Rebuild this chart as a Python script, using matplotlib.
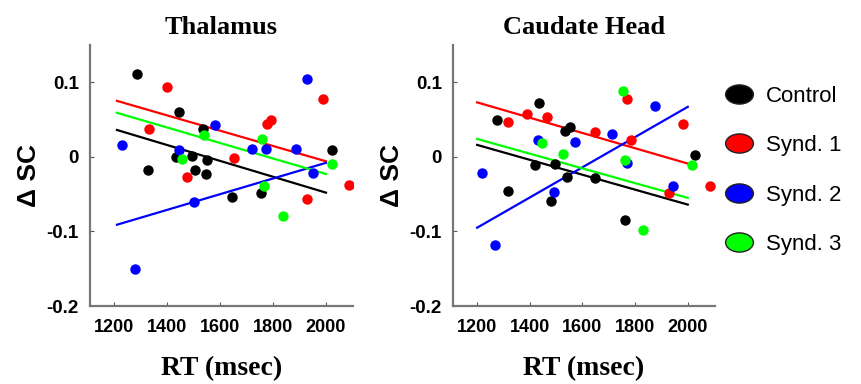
import numpy as np
import matplotlib
matplotlib.use("Agg")
import matplotlib.pyplot as plt
from matplotlib.lines import Line2D
from matplotlib.path import Path
from matplotlib.transforms import Affine2D

groups = ["Control", "Synd. 1", "Synd. 2", "Synd. 3"]
colors = ["#000000", "#ff0000", "#0000ff", "#00ff00"]

# Thalamus: RT (msec) and delta SC per group
thal_x = {
    "Control": [1287, 1327, 1445, 1432, 1493, 1505, 1546, 1549, 1537, 1643, 1753, 2023],
    "Synd. 1": [1398, 1330, 1474, 1653, 1777, 1792, 1928, 1987, 2085],
    "Synd. 2": [1229, 1278, 1445, 1500, 1582, 1720, 1772, 1886, 1930, 1949],
    "Synd. 3": [1455, 1540, 1759, 1767, 1836, 2024],
}
thal_y = {
    "Control": [0.111, -0.017, 0.060, 0.000, 0.001, -0.018, -0.023, -0.004, 0.037, -0.054, -0.048, 0.009],
    "Synd. 1": [0.093, 0.037, -0.027, -0.002, 0.044, 0.049, -0.056, 0.077, -0.038],
    "Synd. 2": [0.016, -0.150, 0.009, -0.060, 0.043, 0.010, 0.011, 0.011, 0.104, -0.022],
    "Synd. 3": [-0.003, 0.029, 0.024, -0.039, -0.079, -0.010],
}
# fitted line end values at RT 1210 and 2000
thal_fit_x = [1210, 2000]
thal_fit = {
    "Control": [0.036, -0.048],
    "Synd. 1": [0.075, -0.006],
    "Synd. 2": [-0.091, -0.008],
    "Synd. 3": [0.059, -0.023],
}

# Caudate head
caud_x = {
    "Control": [1276, 1316, 1436, 1420, 1482, 1497, 1535, 1554, 1541, 1647, 1761, 2028],
    "Synd. 1": [1318, 1389, 1465, 1646, 1771, 1786, 1927, 1981, 2083],
    "Synd. 2": [1219, 1268, 1433, 1491, 1573, 1711, 1768, 1876, 1943],
    "Synd. 3": [1446, 1526, 1754, 1760, 1830, 2017],
}
caud_y = {
    "Control": [0.049, -0.046, 0.072, -0.011, -0.059, -0.009, 0.034, 0.040, -0.027, -0.029, -0.085, 0.002],
    "Synd. 1": [0.047, 0.058, 0.053, 0.033, 0.078, 0.022, -0.049, 0.044, -0.039],
    "Synd. 2": [-0.021, -0.118, 0.022, -0.047, 0.020, 0.031, -0.008, 0.068, -0.039],
    "Synd. 3": [0.019, 0.004, 0.088, -0.004, -0.098, -0.011],
}
caud_fit_x = [1200, 2000]
caud_fit = {
    "Control": [0.016, -0.064],
    "Synd. 1": [0.073, -0.009],
    "Synd. 2": [-0.095, 0.067],
    "Synd. 3": [0.024, -0.055],
}

xticks = [1200, 1400, 1600, 1800, 2000]
yticks = [-0.2, -0.1, 0, 0.1]
ytick_labels = ["-0.2", "-0.1", "0", "0.1"]

serif = ["Liberation Serif", "DejaVu Serif"]
sans = ["Liberation Sans", "DejaVu Sans"]

fig = plt.figure(figsize=(8.61, 3.84), dpi=100)
ax1 = fig.add_axes([0.1045, 0.203, 0.3055, 0.680])
ax2 = fig.add_axes([0.526, 0.203, 0.304, 0.680])


def draw_panel(ax, title, px, py, fx, fy):
    for g, c in zip(groups, colors):
        ax.plot(fx, fy[g], color=c, lw=1.6, zorder=2)
        ax.plot(px[g], py[g], "o", color=c, ms=7.5, mec="none", zorder=3)
    ax.set_xlim(1108, 2102)
    ax.set_ylim(-0.2, 0.15)
    ax.set_xticks(xticks)
    ax.set_yticks(yticks)
    ax.set_yticklabels(ytick_labels)
    for s in ["top", "right"]:
        ax.spines[s].set_visible(False)
    for s in ["left", "bottom"]:
        ax.spines[s].set_color("#777777")
        ax.spines[s].set_linewidth(1.6)
    ax.tick_params(direction="in", length=3, color="#555555")
    ax.tick_params(axis="x", pad=9)
    ax.tick_params(axis="y", pad=8)
    for t in ax.get_xticklabels():
        t.set_fontfamily(sans)
        t.set_fontweight("bold")
        t.set_fontsize(13)
    for t in ax.get_yticklabels():
        t.set_fontfamily(sans)
        t.set_fontweight("bold")
        t.set_fontsize(13.5)
    ax.set_title(title, fontfamily=serif, fontweight="bold", fontsize=19, pad=8)
    ax.set_xlabel("RT (msec)", fontfamily=serif, fontweight="bold", fontsize=20, labelpad=15)
    ax.set_ylabel("\u0394 SC", fontfamily=sans, fontweight="bold", fontsize=19, labelpad=4)


draw_panel(ax1, "Thalamus", thal_x, thal_y, thal_fit_x, thal_fit)
draw_panel(ax2, "Caudate Head", caud_x, caud_y, caud_fit_x, caud_fit)

# legend with oval markers
oval = Path.unit_circle().transformed(Affine2D().scale(1.45, 1.0))
handles = [Line2D([], [], ls="none", marker=oval, ms=20, mfc=c, mec="#222222", mew=1.0)
           for c in colors]
leg = fig.legend(handles, groups, loc="upper left", bbox_to_anchor=(0.829, 0.80),
                 frameon=False, handletextpad=0.45, handlelength=1.5, labelspacing=1.28,
                 borderaxespad=0, prop={"family": sans, "size": 16})

fig.savefig("out.png", dpi=100)
